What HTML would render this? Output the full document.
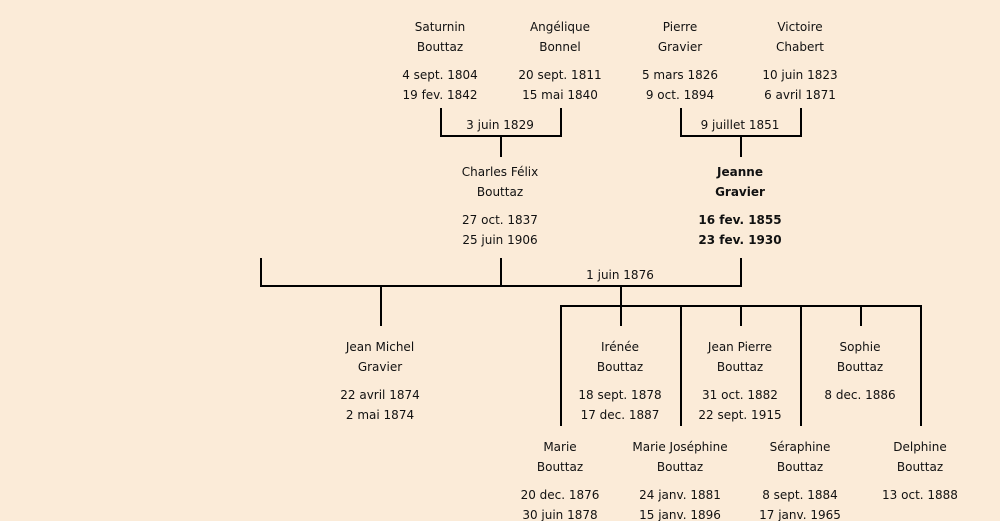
<!DOCTYPE html>
<html><head><meta charset="utf-8"><style>
html,body{margin:0;padding:0;background:#fbebd8;}
#c{position:relative;width:1000px;height:521px;overflow:hidden;background:#fbebd8;font-family:"DejaVu Sans","Liberation Sans",sans-serif;font-size:12px;color:#111;}
.t{position:absolute;width:160px;margin-left:-80px;text-align:center;line-height:20px;white-space:nowrap;}
.b{font-weight:bold;font-size:12px;}
svg{position:absolute;left:0;top:0;}
</style></head><body><div id="c">
<svg width="1000" height="521"><g stroke="#000" stroke-width="2" fill="none">
<path d="M441 108V136H561V108M501 136V157"/>
<path d="M681 108V136H801V108M741 136V157"/>
<path d="M261 258V286H741V258M501 258V286M381 286V326M621 286V326"/>
<path d="M561 426V306H921V426M621 306V326M681 306V426M741 306V326M801 306V426M861 306V326"/>
</g></svg>
<div class="t" style="left:440px;top:17px">Saturnin<br>Bouttaz</div>
<div class="t" style="left:440px;top:65px">4 sept. 1804<br>19 fev. 1842</div>
<div class="t" style="left:560px;top:17px">Angélique<br>Bonnel</div>
<div class="t" style="left:560px;top:65px">20 sept. 1811<br>15 mai 1840</div>
<div class="t" style="left:680px;top:17px">Pierre<br>Gravier</div>
<div class="t" style="left:680px;top:65px">5 mars 1826<br>9 oct. 1894</div>
<div class="t" style="left:800px;top:17px">Victoire<br>Chabert</div>
<div class="t" style="left:800px;top:65px">10 juin 1823<br>6 avril 1871</div>
<div class="t" style="left:500px;top:115px">3 juin 1829</div>
<div class="t" style="left:740px;top:115px">9 juillet 1851</div>
<div class="t" style="left:500px;top:162px">Charles Félix<br>Bouttaz</div>
<div class="t" style="left:500px;top:210px">27 oct. 1837<br>25 juin 1906</div>
<div class="t b" style="left:740px;top:162px">Jeanne<br>Gravier</div>
<div class="t b" style="left:740px;top:210px">16 fev. 1855<br>23 fev. 1930</div>
<div class="t" style="left:620px;top:265px">1 juin 1876</div>
<div class="t" style="left:380px;top:337px">Jean Michel<br>Gravier</div>
<div class="t" style="left:380px;top:385px">22 avril 1874<br>2 mai 1874</div>
<div class="t" style="left:620px;top:337px">Irénée<br>Bouttaz</div>
<div class="t" style="left:620px;top:385px">18 sept. 1878<br>17 dec. 1887</div>
<div class="t" style="left:740px;top:337px">Jean Pierre<br>Bouttaz</div>
<div class="t" style="left:740px;top:385px">31 oct. 1882<br>22 sept. 1915</div>
<div class="t" style="left:860px;top:337px">Sophie<br>Bouttaz</div>
<div class="t" style="left:860px;top:385px">8 dec. 1886</div>
<div class="t" style="left:560px;top:437px">Marie<br>Bouttaz</div>
<div class="t" style="left:560px;top:485px">20 dec. 1876<br>30 juin 1878</div>
<div class="t" style="left:680px;top:437px">Marie Joséphine<br>Bouttaz</div>
<div class="t" style="left:680px;top:485px">24 janv. 1881<br>15 janv. 1896</div>
<div class="t" style="left:800px;top:437px">Séraphine<br>Bouttaz</div>
<div class="t" style="left:800px;top:485px">8 sept. 1884<br>17 janv. 1965</div>
<div class="t" style="left:920px;top:437px">Delphine<br>Bouttaz</div>
<div class="t" style="left:920px;top:485px">13 oct. 1888</div>
</div></body></html>
